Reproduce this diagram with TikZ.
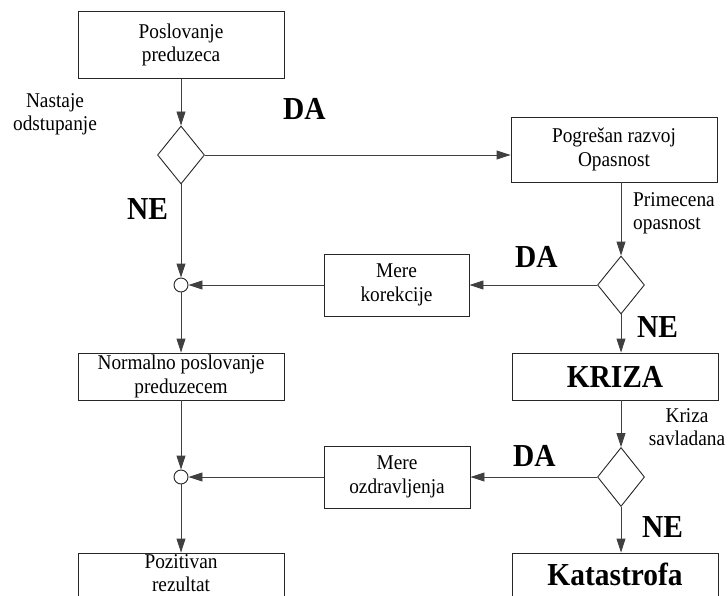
\documentclass[tikz,border=0pt]{standalone}
\usepackage{fontspec}
\setmainfont{Liberation Serif}[FakeStretch=0.92]
\usetikzlibrary{shapes.geometric,arrows.meta}
\begin{document}
\begin{tikzpicture}[x=1pt,y=-1pt,
  box/.style={draw=black!85, line width=0.9pt, inner sep=0pt, align=center, font=\fontsize{21}{23.5}\selectfont},
  bigbox/.style={box, font=\fontsize{32}{32}\selectfont\bfseries},
  dec/.style={draw=black!85, line width=0.9pt, diamond, inner sep=0pt, minimum width=47pt, minimum height=58pt},
  junc/.style={draw=black!85, line width=0.9pt, circle, inner sep=0pt, minimum size=14pt, fill=white},
  lbl/.style={inner sep=0pt, font=\fontsize{21}{23}\selectfont},
  big/.style={inner sep=0pt, font=\fontsize{32}{32}\selectfont\bfseries},
  conn/.style={draw=black!75, line width=0.9pt, -{Triangle[length=14pt,width=9pt]}}
]
\useasboundingbox (0,0) rectangle (728,596);
\clip (0,0) rectangle (728,596);

% boxes
\node[box, minimum width=206pt, minimum height=67pt] (b1) at (181,45) {Poslovanje\\preduzeca};
\node[dec] (d1) at (181,155) {};
\node[box, minimum width=206pt, minimum height=65pt] (b2) at (614,149.5) {Pogrešan razvoj\\Opasnost};
\node[dec] (d2) at (621,285) {};
\node[box, minimum width=145pt, minimum height=62pt] (mk) at (396.5,285) {Mere\\korekcije};
\node[junc] (c1) at (181,285) {};
\node[box, minimum width=206pt, minimum height=47pt] (np) at (181,376.5) {Normalno poslovanje\\preduzecem};
\node[bigbox, minimum width=206pt, minimum height=47pt] (kr) at (615,376.5) {KRIZA};
\node[dec, minimum height=59pt] (d3) at (621,477) {};
\node[box, minimum width=146pt, minimum height=62pt] (mo) at (397,477) {Mere\\ozdravljenja};
\node[junc] (c2) at (181,477) {};
\node[box, minimum width=206pt, minimum height=46pt] (pr) at (181,576) {};
\node[bigbox, minimum width=206pt, minimum height=46pt] (ka) at (615,576) {};
\node[lbl, align=center] (prt) at (181,573) {Pozitivan\\rezultat};
\node[big] (kat) at (615,574) {Katastrofa};

% connectors
\draw[conn] (b1.south) -- (d1.north);
\draw[conn] (d1.east) -- (d1.east -| b2.west);
\draw[conn] (d1.south) -- (c1.north);
\draw[conn] (b2.south -| d2.north) -- (d2.north);
\draw[conn] (d2.west) -- (mk.east);
\draw[conn] (mk.west) -- (c1.east);
\draw[conn] (c1.south) -- (np.north);
\draw[conn] (d2.south) -- (d2.south |- kr.north);
\draw[conn] (kr.south -| d3.north) -- (d3.north);
\draw[conn] (d3.west) -- (mo.east);
\draw[conn] (mo.west) -- (c2.east);
\draw[conn] (np.south) -- (c2.north);
\draw[conn] (c2.south) -- (pr.north);
\draw[conn] (d3.south) -- (d3.south |- ka.north);

% labels
\node[big, anchor=base west] (da1) at (283,120) {DA};
\node[big, anchor=base west] (ne1) at (127,220) {NE};
\node[big, anchor=base west] (da2) at (515,267) {DA};
\node[big, anchor=base west] (ne2) at (637,337) {NE};
\node[big, anchor=base west] (da3) at (513,466) {DA};
\node[big, anchor=base west] (ne3) at (642,537) {NE};
\node[lbl, align=center] (t1) at (55,114) {Nastaje\\odstupanje};
\node[lbl, align=left, anchor=west] (t2) at (633,213) {Primecena\\opasnost};
\node[lbl, align=center] (t3) at (687,427) {Kriza\\savladana};
\end{tikzpicture}
\end{document}
